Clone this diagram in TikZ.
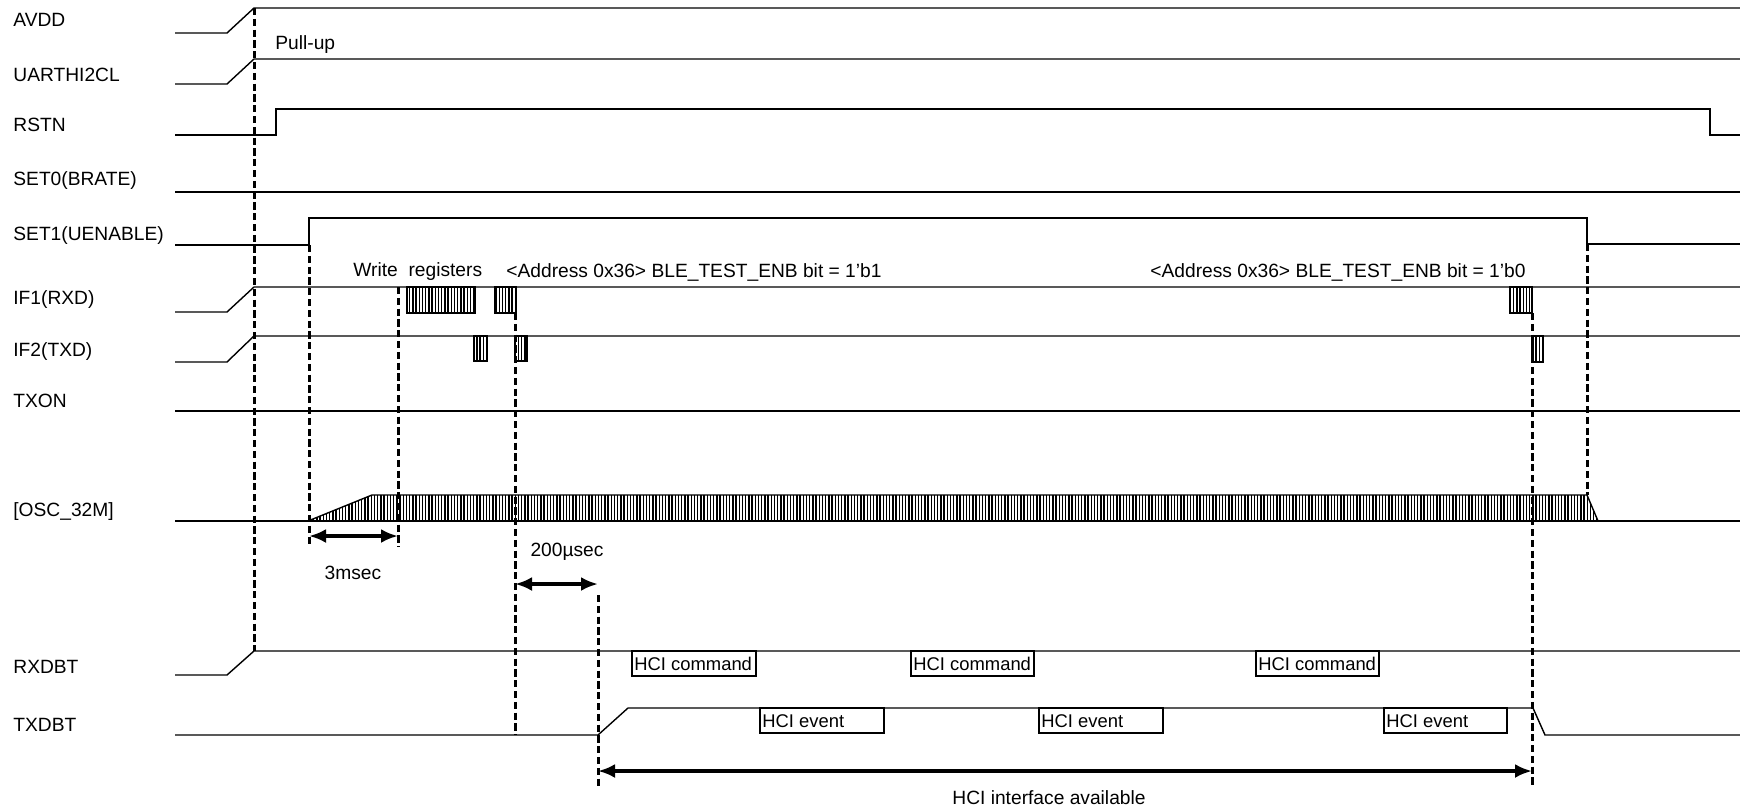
\documentclass[tikz,border=0pt]{standalone}
\usepackage{fontspec}
\setmainfont{Liberation Sans}
\usetikzlibrary{arrows.meta,patterns.meta}
\begin{document}
\begin{tikzpicture}[x=0.5pt,y=-0.5pt,
  sig/.style={line width=0.7pt,line join=miter},
  guide/.style={line width=1.5pt,dash pattern=on 3.6pt off 1.8pt},
  dim/.style={line width=1.8pt,{Latex[length=8.5pt,width=7pt]}-{Latex[length=8.5pt,width=7pt]}},
  hatch/.style={line width=0.7pt,pattern={Lines[angle=90,distance=1.6pt,line width=0.7pt]}},
  lbl/.style={anchor=west,inner sep=0pt,font=\fontsize{9.6}{11}\selectfont},
  txt/.style={inner sep=0pt,font=\fontsize{9.6}{11}\selectfont},
  boxtxt/.style={anchor=west,inner sep=0pt,font=\fontsize{9.2}{11}\selectfont},
  hcibox/.style={line width=0.6pt}]
\useasboundingbox (0,0) rectangle (1740,810);
% labels
\node[lbl] (lavdd) at (13,20) {AVDD};
\node[lbl] (luart) at (13,75) {UARTHI2CL};
\node[lbl] (lrstn) at (13,125) {RSTN};
\node[lbl] (lset0) at (13,181) {SET0(BRATE)};
\node[lbl] (lset1) at (13,236) {SET1(UENABLE)};
\node[lbl] (lif1) at (13,300) {IF1(RXD)};
\node[lbl] (lif2) at (13,352) {IF2(TXD)};
\node[lbl] (ltxon) at (13,401) {TXON};
\node[lbl] (losc) at (13,512) {[OSC\_32M]};
\node[lbl] (lrxdbt) at (13,667) {RXDBT};
\node[lbl] (ltxdbt) at (13,725) {TXDBT};
% hatched shapes
\draw[hatch] (308,521) -- (372,495) -- (1587,495) -- (1598,521) -- cycle;
\draw[hatch] (407,287) rectangle (475,313);
\draw[hatch] (495,287) rectangle (516,313);
\draw[hatch] (474,336) rectangle (487,361);
\draw[hatch] (515,336) rectangle (527,361);
\draw[hatch] (1510,287) rectangle (1532,313);
\draw[hatch] (1532,336) rectangle (1543,362);
% signals
\draw[sig] (175,33) -- (227,33) -- (254,8) -- (1740,8);
\draw[sig] (175,84) -- (227,84) -- (254,59) -- (1740,59);
\draw[sig] (175,135) -- (276,135) -- (276,109) -- (1710,109) -- (1710,135) -- (1740,135);
\draw[sig] (175,192) -- (1740,192);
\draw[sig] (175,245) -- (309,245) -- (309,218) -- (1587,218) -- (1587,244) -- (1740,244);
\draw[sig] (175,312) -- (227,312) -- (254,287) -- (1740,287);
\draw[sig] (175,362) -- (227,362) -- (254,336) -- (1740,336);
\draw[sig] (175,411) -- (1740,411);
\draw[sig] (175,521) -- (1740,521);
\draw[sig] (175,675) -- (227,675) -- (254,651) -- (1740,651);
\draw[sig] (175,735) -- (598,735) -- (628,708) -- (1533,708) -- (1545,735) -- (1740,735);
% guide lines
\draw[guide] (254,8) -- (254,651);
\draw[guide] (309,245) -- (309,547);
\draw[guide] (398,287) -- (398,547);
\draw[guide] (515,313) -- (515,735);
\draw[guide] (598,595) -- (598,788);
\draw[guide] (1532,313) -- (1532,788);
\draw[guide] (1587,244) -- (1587,495);
% dimension arrows
\draw[dim] (309,536) -- (398,536);
\draw[dim] (515,584) -- (598,584);
\draw[dim] (598,771) -- (1532,771);
% texts
\node[lbl] (pullup) at (275,45) {Pull-up};
\node[lbl] (wreg) at (353,272) {Write\ \ registers};
\node[lbl] (addr1) at (506,272) {<Address 0x36> BLE\_TEST\_ENB bit = 1’b1};
\node[lbl] (addr0) at (1150,272) {<Address 0x36> BLE\_TEST\_ENB bit = 1’b0};
\node[txt] (t3ms) at (353,573) {3msec};
\node[txt] (t200) at (567,552) {200µsec};
\node[txt] (thci) at (1049,798) {HCI interface available};
% HCI boxes
\foreach \xa/\xb/\nm in {632/756/c1,911/1034/c2,1256/1379/c3}{
  \draw[hcibox] (\xa,651) rectangle (\xb,676);
  \node[boxtxt] (\nm) at (\xa+2,664) {HCI command};
}
\foreach \xa/\xb/\nm in {760/884/e1,1039/1163/e2,1384/1507/e3}{
  \draw[hcibox] (\xa,708) rectangle (\xb,733);
  \node[boxtxt] (\nm) at (\xa+2,721) {HCI event};
}
\end{tikzpicture}
\end{document}
